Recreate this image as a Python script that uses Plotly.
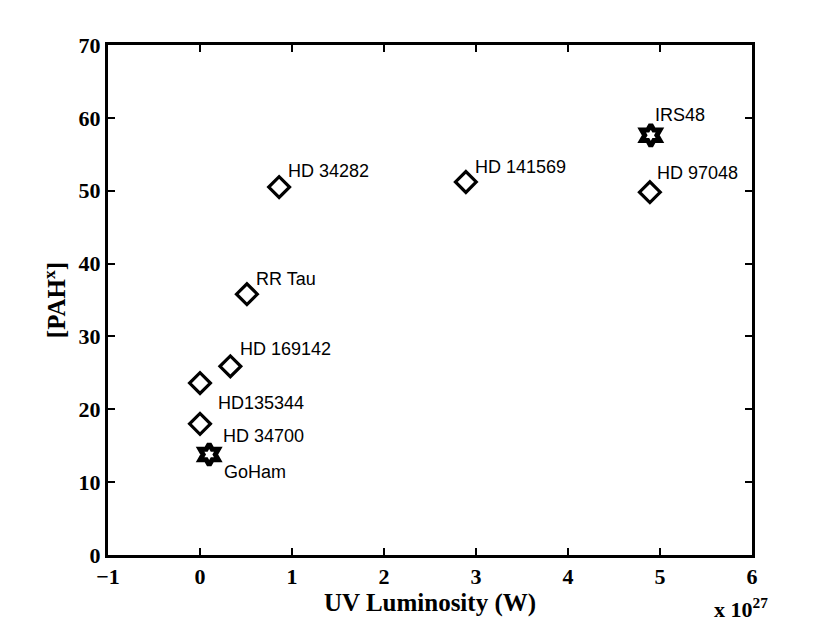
import plotly.graph_objects as go

# data (UV luminosity in units of 1e27 W, [PAH^x])
diamond_names = ["HD 34282", "HD 141569", "HD 97048", "RR Tau", "HD 169142", "HD135344", "HD 34700"]
diamond_x = [0.86, 2.89, 4.89, 0.51, 0.33, 0.0, 0.0]
diamond_y = [50.5, 51.2, 49.8, 35.8, 25.9, 23.6, 18.0]

star_names = ["IRS48", "GoHam"]
star_x = [4.90, 0.10]
star_y = [57.6, 13.8]

# label offsets in pixels (dx, dy)
label_offsets = {
    "HD 34282": (7, 16), "HD 141569": (7, 15), "HD 97048": (5, 19),
    "RR Tau": (7, 15), "HD 169142": (8, 17), "HD135344": (16, -20),
    "HD 34700": (21, -12), "IRS48": (2, 20), "GoHam": (13, -18),
}

xticks = [-1, 0, 1, 2, 3, 4, 5, 6]
yticks = [0, 10, 20, 30, 40, 50, 60, 70]

SERIF = "Liberation Serif, Times New Roman, serif"

fig = go.Figure()
fig.add_trace(go.Scatter(
    x=diamond_x, y=diamond_y, mode="markers",
    marker=dict(symbol="diamond-open", size=16, color="black", line=dict(width=3.2, color="black")),
    showlegend=False))
fig.add_trace(go.Scatter(
    x=star_x, y=star_y, mode="markers",
    marker=dict(symbol="hexagram-open", size=16, color="black", line=dict(width=5, color="black")),
    showlegend=False))

for names, xs, ys in [(diamond_names, diamond_x, diamond_y), (star_names, star_x, star_y)]:
    for n, x, y in zip(names, xs, ys):
        dx, dy = label_offsets[n]
        fig.add_annotation(x=x, y=y, text=n, showarrow=False, xanchor="left", yanchor="middle",
                           xshift=dx, yshift=dy,
                           font=dict(family="Liberation Sans, Arial", size=18, color="black"))

fig.add_annotation(xref="paper", yref="paper", x=0.983, y=-0.072, xanchor="center", yanchor="top",
                   text="x 10<sup>27</sup>", showarrow=False,
                   font=dict(family=SERIF, size=22, color="black", weight="bold"))

axis_common = dict(showline=True, linewidth=3, linecolor="black", mirror="ticks",
                   ticks="inside", ticklen=7, tickwidth=2, tickcolor="black",
                   showgrid=False, zeroline=False, automargin=False,
                   tickfont=dict(family=SERIF, size=22, color="black", weight="bold"))

fig.update_xaxes(range=[-1, 6], tickvals=xticks,
                 ticktext=[("\u2212" + str(-t)) if t < 0 else str(t) for t in xticks],
                 title=dict(text="UV Luminosity (W)", standoff=0,
                            font=dict(family=SERIF, size=25, color="black", weight="bold")),
                 **axis_common)
fig.update_yaxes(range=[0, 70], tickvals=yticks,
                 title=dict(text="[PAH<sup>x</sup>]", standoff=6,
                            font=dict(family=SERIF, size=25, color="black", weight="bold")),
                 **axis_common)

# page body adds an 8px offset; margins compensate so the plot area lands where the reference has it
fig.update_layout(width=830, height=625, margin=dict(l=100, r=86, t=37, b=78),
                  plot_bgcolor="white", paper_bgcolor="white")

fig.write_html("out.html")
